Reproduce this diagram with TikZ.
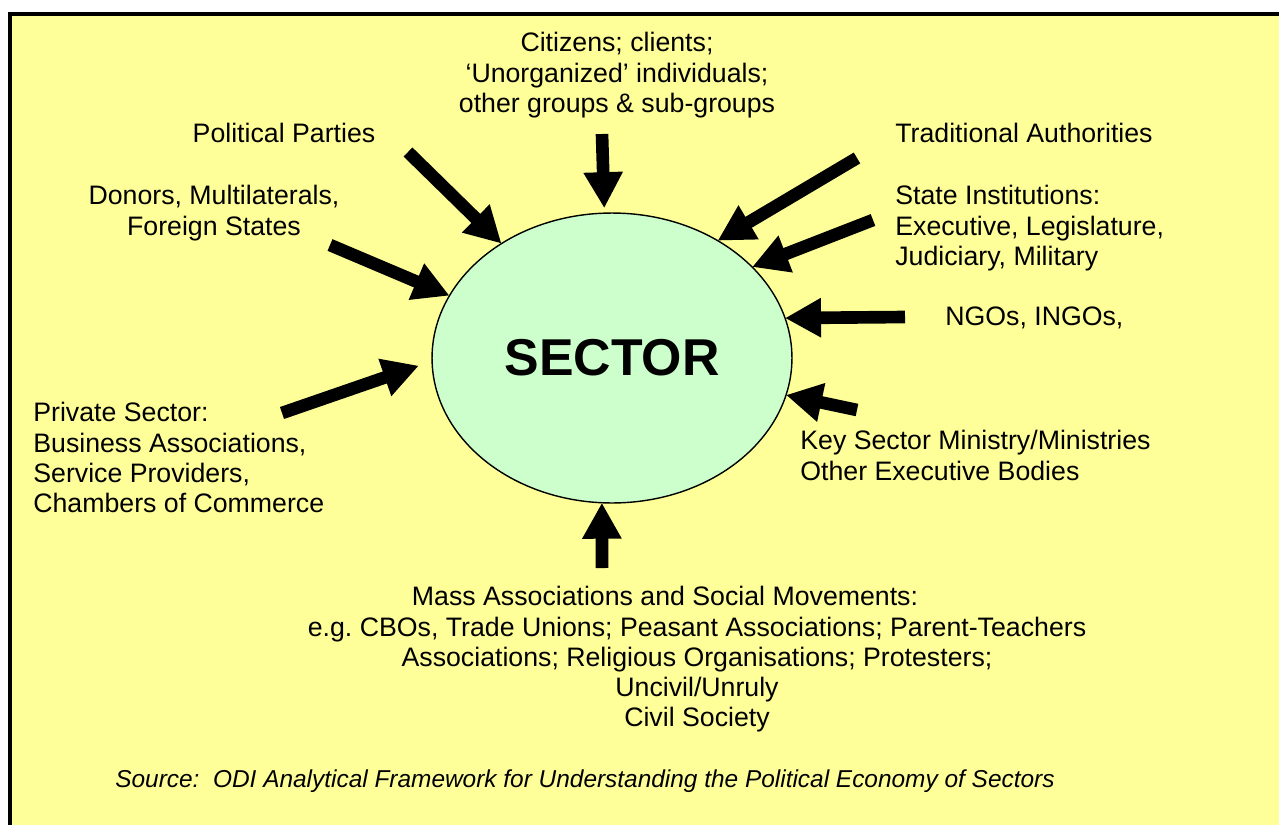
\documentclass[tikz,border=0pt]{standalone}
\usepackage{fontspec}
\setmainfont{Liberation Sans}
\usetikzlibrary{arrows.meta,shapes.geometric}
\definecolor{paper}{HTML}{FFFF99}
\definecolor{core}{HTML}{CCFFCC}
\begin{document}
\begin{tikzpicture}[
    x=0.02cm, y=-0.02cm,
    actor/.style={inner sep=0pt, font=\fontsize{15.2pt}{17.25pt}\selectfont},
    hub/.style={ellipse, draw, line width=0.8pt, fill=core, minimum width=7.2cm, minimum height=5.8cm, inner sep=0pt, outer sep=0pt, font=\fontsize{29.5pt}{34pt}\selectfont\bfseries},
    push/.style={line width=7.2pt, -{Triangle[length=0.72cm, width=0.74cm]}}
]
    \useasboundingbox (0,0) rectangle (1279,825);
    \draw[fill=paper, line width=2.3pt] (10,14) rectangle (1300,850);

    \node[hub] (sector) at (612,358) {SECTOR};

    \node[actor, align=center, anchor=north] (cit) at (617,32) {Citizens; clients;\\‘Unorganized’ individuals;\\other groups \& sub-groups};
    \node[actor] (pol) at (284,133) {Political Parties};
    \node[actor, align=center, anchor=north] (don) at (214,185) {Donors, Multilaterals,\\Foreign States};
    \node[actor, anchor=west] (trad) at (895,133) {Traditional Authorities};
    \node[actor, align=left, anchor=north west] (state) at (895,185) {State Institutions:\\Executive, Legislature,\\Judiciary, Military};
    \node[actor, anchor=west] (ngo) at (945,318) {NGOs, INGOs,};
    \node[actor, align=left, anchor=north west] (priv) at (33,402) {Private Sector:\\Business Associations,\\Service Providers,\\Chambers of Commerce};
    \node[actor, align=left, anchor=north west] (key) at (800,430) {Key Sector Ministry/Ministries\\Other Executive Bodies};
    \node[actor, align=center, anchor=north] (mass) at (697,586) {Mass Associations and Social Movements:\hspace*{1.28cm}\\e.g.\ CBOs, Trade Unions; Peasant Associations; Parent-Teachers\\Associations; Religious Organisations; Protesters;\\Uncivil/Unruly\\Civil Society};
    \node[actor, anchor=west, font=\fontsize{13.9pt}{16pt}\selectfont\itshape] (src) at (115,781) {Source:\ \ ODI Analytical Framework for Understanding the Political Economy of Sectors};

    \coordinate (cit-t) at (602,134);
    \coordinate (pol-t) at (408,152);
    \coordinate (don-t) at (330,245);
    \coordinate (trad-t) at (857,158);
    \coordinate (state-t) at (873,220);
    \coordinate (ngo-t) at (905,317);
    \coordinate (key-t) at (857,410);
    \coordinate (priv-t) at (282,413);
    \coordinate (mass-t) at (602,568);

    \draw[push, shorten >=0.1cm] (cit-t) -- (sector.93);
    \draw[push] (pol-t) -- (sector.134);
    \draw[push] (don-t) -- (sector.159);
    \draw[push] (trad-t) -- (sector.48);
    \draw[push] (state-t) -- (sector.33);
    \draw[push] (ngo-t) -- (sector.13);
    \draw[push] (key-t) -- (sector.-12);
    \draw[push, shorten >=0.28cm] (priv-t) -- (sector.181);
    \draw[push] (mass-t) -- (sector.266);
\end{tikzpicture}
\end{document}
